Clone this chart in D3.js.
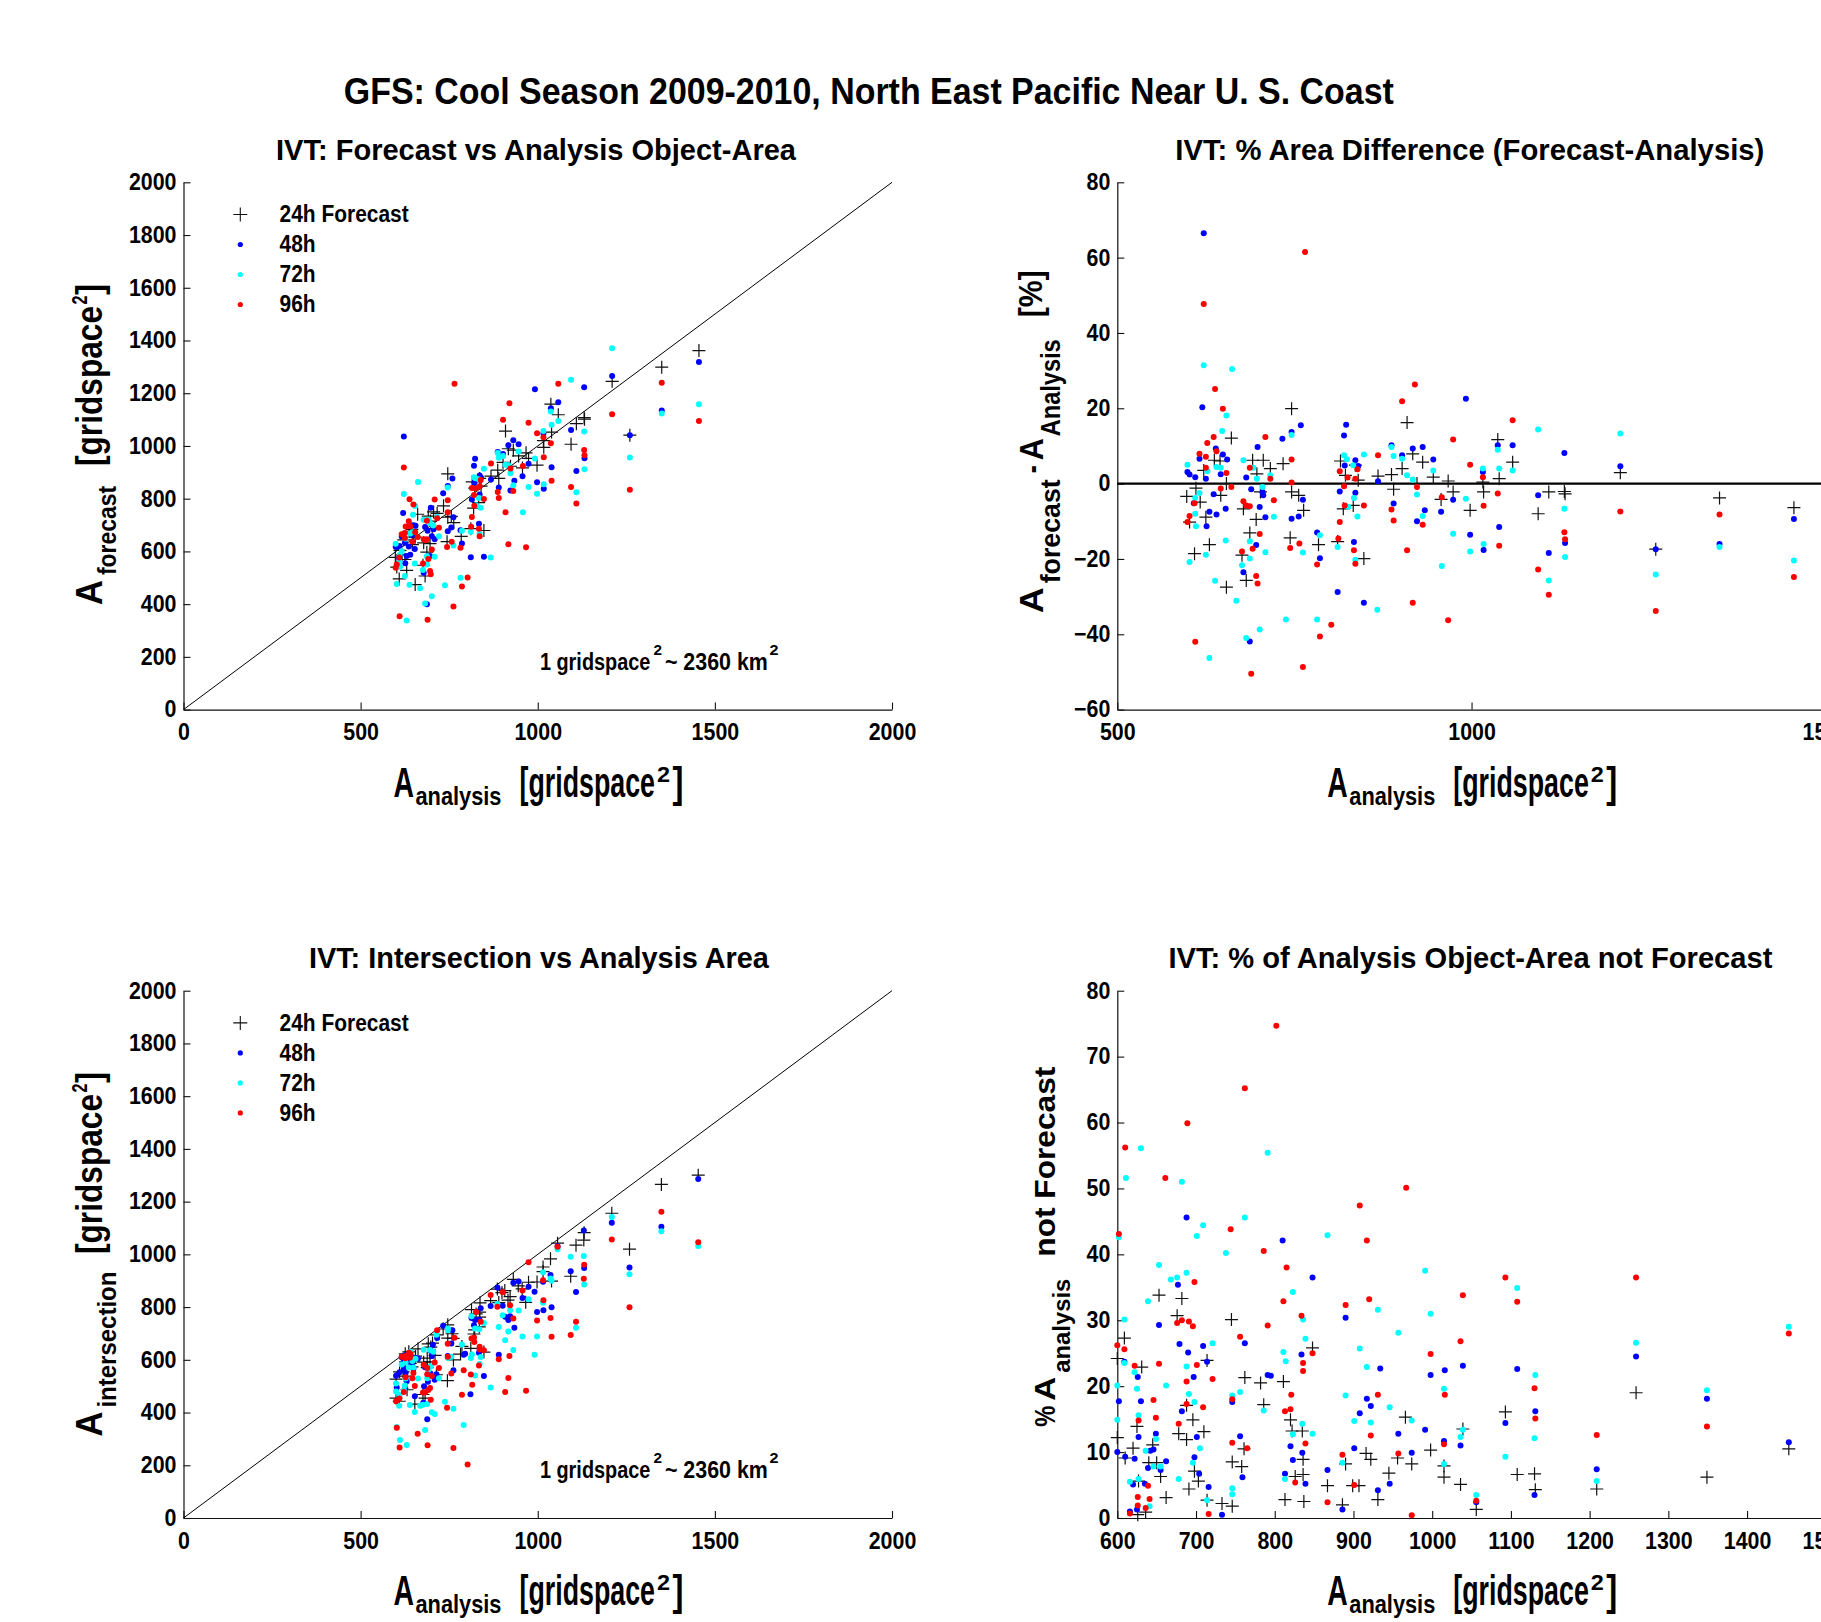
<!DOCTYPE html>
<html lang="en">
<head>
  <meta charset="UTF-8">
  <title>GFS IVT object areas</title>
  <style>
    body { margin: 0; background: #fff; }
    svg { display: block; font-family: "Liberation Sans", Arial, sans-serif; font-weight: bold; }
  </style>
</head>
<body>
  <svg id="chart"></svg>
  <script src="https://cdn.jsdelivr.net/npm/d3@7"></script>
  <script>
    // [analysis area, % difference (forecast - analysis)] per lead time
    var diff24 = [[661,12.1],[637,6.2],[645,6.0],[622,3.5],[654,0],[611,-1.2],[598,-3.4],[617,-4.9],[646,-3.1],[625,-8.9],[602,-10.2],[630,-16.2],[609,-18.6],[654,-27.5],[691,6.2],[706,6.2],[716,4.0],[697,2.6],[734,5.3],[746,19.9],[746,-2.2],[756,-3.1],[763,-7.1],[702,-2.2],[678,-6.7],[696,-9.5],[687,-13.1],[676,-19.0],[682,-25.7],[744,-14.4],[784,-16.2],[811,-15.4],[815,6.0],[822,2.2],[819,-6.7],
      [836,4.9],[840,0.9],[833,-5.8],[848,-19.9],[868,2.0],[887,2.4],[890,-1.5],[902,4.0],[909,16.2],[917,7.9],[923,0],[931,5.7],[946,1.7],[957,-4.2],[967,0.7],[974,-2.2],[998,-7.1],[1016,0.4],[1017,-2.2],[1037,11.7],[1039,1.3],[1058,5.7],[1094,-8.0],
      [1109,-2.2],[1131,-2.1],[1132,-2.7],[1210,2.9],[1260,-17.4],[1350,-3.8],[1455,-6.4]];
    var diff48 = [[622,66.5],[620,20.3],[616,6.6],[639,9.3],[649,7.7],[655,6.4],[599,3.1],[602,2.4],[610,1.7],[625,1.3],[646,2.5],[636,-2.8],[608,-5.2],[653,-6.7],[630,-7.5],[640,-8.2],[626,-11.3],[698,9.7],[682,1.6],[689,-1.5],[705,-2.2],[706,-3.1],[701,-6.2],[709,-8.9],[696,-16.3],[678,-23.5],[687,-41.9],[733,11.9],[746,13.7],[759,15.5],[762,-4.3],[756,-8.7],[746,-9.3],[782,-13.0],[786,-19.8],[811,-28.8],[823,15.6],[820,12.8],[821,4.8],[814,-2.1],
      [836,6.2],[836,-2.4],[840,4.7],[834,-15.5],[848,-31.6],[868,0.6],[887,10.2],[902,7.5],[917,9.3],[931,9.7],[890,-5.3],[934,-7.1],[923,-10.0],[946,6.4],[957,-7.5],[974,-4.3],[992,22.5],[998,-13.6],[1016,3.1],[1017,-17.6],[1037,10.2],[1039,-11.5],[1058,10.2],[1094,-3.1],
      [1109,-18.4],[1131,8.1],[1132,-15.8],[1210,4.6],[1260,-17.4],[1350,-16.0],[1455,-9.4]];
    var diff72 = [[622,31.4],[662,30.4],[654,18.1],[648,14.0],[599,5.0],[640,4.4],[646,4.2],[627,3.3],[678,6.2],[616,-2.5],[610,-3.8],[610,-8.0],[611,-11.3],[653,-15.1],[625,-18.9],[602,-20.8],[638,-25.8],[668,-31.1],[697,1.3],[692,4.2],[716,2.2],[705,-0.9],[721,-8.8],[687,-15.3],[687,-19.9],[709,-18.2],[676,-21.7],[701,-38.7],[682,-41.0],[630,-46.3],[738,-36.1],[762,-18.3],[782,-36.1],[786,-13.7],[811,-16.8],[820,7.5],[824,6.5],[826,-6.2],[746,12.9],
      [833,4.9],[834,-3.8],[839,-8.7],[836,-20.2],[848,7.7],[867,-33.5],[887,9.7],[890,7.3],[902,6.6],[909,2.2],[917,1.1],[923,-2.9],[931,-8.6],[946,3.5],[958,-21.9],[974,-13.3],[992,-4.0],[998,-18.0],[1016,4.0],[1017,-16.0],[1037,9.0],[1039,4.0],[1058,3.5],[1094,14.4],
      [1109,-25.7],[1131,-6.7],[1132,-19.5],[1210,13.3],[1260,-24.1],[1350,-16.8],[1455,-20.4]];
    var diff96 = [[765,61.5],[622,47.7],[638,25.1],[649,19.9],[636,12.4],[627,10.8],[616,7.9],[640,8.6],[625,7.1],[625,4.2],[654,2.8],[661,-0.9],[646,-1.3],[609,-5.2],[602,-8.6],[599,-10.2],[709,12.4],[687,4.2],[716,1.3],[678,-4.7],[682,-5.8],[687,-6.0],[721,-4.4],[701,-13.4],[691,-17.3],[676,-18.0],[696,-24.5],[698,-26.5],[610,-42.0],[689,-50.5],[746,6.4],[746,0.3],[757,-15.9],[744,-17.1],[762,-48.7],[786,-40.6],[782,-21.5],[802,-37.5],[814,3.3],[820,-0.7],[821,-5.8],[814,-10.2],[812,-14.6],[825,1.6],
      [839,3.8],[836,1.3],[848,-5.8],[834,-17.7],[836,-21.3],[868,7.5],[902,21.9],[920,26.3],[887,-6.9],[890,-9.8],[909,-17.7],[917,-31.6],[923,-0.9],[931,-10.9],[958,-3.6],[967,-36.3],[974,11.7],[998,5.0],[1016,1.7],[1017,-5.9],[1037,-2.6],[1039,-16.5],[1058,16.8],[1094,-22.8],
      [1109,-29.5],[1131,-12.9],[1132,-14.8],[1210,-7.4],[1260,-33.8],[1350,-8.2],[1455,-24.8]];

    // [analysis area, % of analysis object-area not forecast] per lead time
    var miss24 = [[653,33.8],[682,33.3],[676,30.7],[745,30.1],[609,27.3],[600,24.2],[631,22.9],[714,23.9],[762,21.3],[782,20.5],[811,20.7],[786,17.2],[688,17.1],[696,14.9],[625,13.9],[678,12.8],[710,13.1],[820,14.9],[822,13.2],[835,13.2],[600,12.2],[688,11.9],[620,10.6],[645,11.1],[761,10.5],[610,9.1],[640,8.4],[650,8.4],[746,8.5],[758,7.8],[698,7.1],[655,6.3],[703,5.6],[627,5.6],[836,8.9],[826,6.3],[836,6.6],[662,3.1],[691,4.4],[714,2.7],[733,2.2],[746,1.8],[813,2.8],[837,2.5],[636,0.9],[626,0.5],
      [848,25.8],[966,15.3],[1039,13.5],[916,9.8],[922,8.9],[998,10.3],[956,9.1],[974,8.2],[890,8.2],[1015,7.9],[1015,6.2],[945,6.8],[867,4.9],[899,4.9],[907,4.9],[1036,5.1],[931,2.8],[886,2.0],[1056,1.3],
      [1093,16.1],[1108,6.6],[1130,6.7],[1131,4.3],[1209,4.4],[1259,19.0],[1349,6.2],[1453,10.5]];
    var miss48 = [[688,45.6],[810,42.1],[677,35.4],[653,29.3],[679,26.4],[690,25.1],[709,26.1],[762,26.5],[609,23.7],[626,21.4],[697,21.4],[791,21.7],[795,21.6],[834,24.8],[602,17.7],[630,17.7],[682,16.2],[714,23.7],[746,17.6],[627,12.3],[649,12.8],[701,12.3],[756,12.4],[820,10.9],[835,9.9],[600,10.0],[610,9.3],[622,9.0],[646,10.4],[642,10.2],[662,8.6],[639,7.6],[655,7.3],[698,9.2],[704,6.7],[759,6.2],[823,8.8],[813,6.7],[839,5.2],[620,5.1],[635,5.2],[716,4.7],[616,1.0],[625,1.3],[733,0.5],
      [848,36.5],[890,30.4],[934,22.7],[998,21.7],[1016,22.4],[1039,23.1],[917,18.1],[922,17.0],[908,15.9],[991,13.4],[957,12.8],[901,10.6],[974,9.9],[1015,11.7],[1036,11.0],[867,7.3],[946,5.2],[931,4.2],[886,1.3],[1056,2.4],
      [1108,22.6],[1131,16.2],[1093,14.4],[1130,3.5],[1209,7.4],[1259,24.5],[1349,18.1],[1453,11.5]];
    var miss72 = [[630,56.1],[611,51.6],[682,51.0],[602,42.6],[762,45.6],[709,44.4],[701,42.8],[791,55.4],[738,40.2],[653,38.4],[668,36.2],[676,36.5],[688,37.2],[639,32.9],[823,34.3],[609,30.1],[609,23.5],[622,22.1],[688,23.0],[721,26.5],[811,25.2],[814,23.8],[836,30.1],[839,27.2],[600,20.1],[625,19.6],[662,20.1],[691,18.8],[698,17.6],[746,18.6],[756,19.1],[786,16.3],[600,14.9],[627,15.6],[649,12.0],[705,10.6],[636,10.2],[835,14.3],[823,12.7],[646,7.8],[655,7.8],[696,8.4],[616,5.5],[678,5.9],[813,5.9],[714,2.7],[746,4.5],[746,3.6],[641,1.8],[627,5.9],
      [867,42.9],[991,37.5],[931,31.6],[998,31.0],[957,28.1],[908,25.7],[917,22.9],[890,18.6],[946,16.8],[1015,19.6],[901,14.7],[922,14.5],[974,14.8],[848,12.8],[1039,13.4],[1036,12.3],[886,8.4],[1015,8.2],[1056,3.5],
      [1108,34.9],[1131,21.7],[1130,12.1],[1093,9.3],[1209,5.6],[1259,26.6],[1349,19.4],[1453,29.0]];
    var miss96 = [[802,74.7],[762,65.2],[689,59.9],[610,56.2],[661,51.6],[744,43.8],[602,43.1],[786,40.5],[815,38.0],[698,35.8],[811,32.9],[676,29.6],[682,30.0],[691,29.8],[696,29.1],[791,29.2],[834,30.7],[600,26.2],[609,25.6],[756,27.5],[622,23.1],[653,23.4],[701,23.2],[721,21.1],[836,23.5],[836,22.3],[688,20.7],[646,17.9],[688,17.3],[709,16.8],[746,18.0],[821,18.7],[813,16.2],[820,16.5],[627,14.8],[649,15.2],[678,14.3],[746,11.4],[765,10.6],[839,11.3],[639,4.9],[826,5.4],[626,3.2],[641,2.9],[626,1.9],[636,1.5],[616,0.7],[716,0.6],
      [967,50.1],[908,47.4],[917,42.1],[1039,33.8],[920,33.2],[890,32.3],[848,25.0],[1036,26.8],[998,24.9],[931,18.7],[1016,18.7],[922,12.5],[1015,11.2],[957,9.8],[886,9.6],[901,5.0],[867,2.4],[974,0.4],[1056,2.6],
      [1093,36.5],[1108,32.8],[1130,19.7],[1131,15.1],[1209,12.6],[1259,36.5],[1349,13.9],[1453,28.0]];

    var leadNames = ["24h Forecast", "48h", "72h", "96h"];
    var leadColors = ["#000000", "#0000ff", "#00ffff", "#ff0000"];
    var areaTicks = [0, 200, 400, 600, 800, 1000, 1200, 1400, 1600, 1800, 2000];
    var areaTicksX = [0, 500, 1000, 1500, 2000];
    var diffTicks = [-60, -40, -20, 0, 20, 40, 60, 80];
    var missTicks = [0, 10, 20, 30, 40, 50, 60, 70, 80];
    var missTicksX = [600, 700, 800, 900, 1000, 1100, 1200, 1300, 1400, 1500];

    var diffSets = [diff24, diff48, diff72, diff96];
    var missSets = [miss24, miss48, miss72, miss96];

    var W = 1821, H = 1622, pw = 708.5, ph = 527.3;
    var svg = d3.select("#chart").attr("width", W).attr("height", H);
    svg.append("rect").attr("width", W).attr("height", H).attr("fill", "#fff");

    function squeeze(sel, k) {
      sel.each(function () {
        var l = this.getComputedTextLength();
        d3.select(this).attr("textLength", l * k).attr("lengthAdjust", "spacingAndGlyphs");
      });
    }

    // text made of pieces (subscripts / superscripts), optionally rotated
    function label(ox, oy, rot, pieces) {
      var g = svg.append("g").attr("transform", "translate(" + ox + "," + oy + ")" + (rot ? " rotate(-90)" : ""));
      pieces.forEach(function (p) {
        g.append("text").attr("x", p[1]).attr("y", p[4]).attr("font-size", p[3])
          .attr("textLength", p[2]).attr("lengthAdjust", "spacingAndGlyphs").text(p[0]);
      });
    }

    function panel(left, top, xDom, yDom, xTicks, yTicks, sets, title, titleX, titleLen) {
      var x = d3.scaleLinear().domain(xDom).range([left, left + pw]);
      var y = d3.scaleLinear().domain(yDom).range([top + ph, top]);
      var g = svg.append("g");

      svg.append("text").attr("x", titleX).attr("y", top - 22.3).attr("font-size", 30)
        .attr("textLength", titleLen).attr("lengthAdjust", "spacingAndGlyphs").text(title);

      var ax = g.append("g").attr("transform", "translate(0," + (top + ph) + ")")
        .call(d3.axisBottom(x).tickValues(xTicks).tickSize(-7).tickSizeOuter(0).tickPadding(14.5).tickFormat(d3.format("d")));
      var ay = g.append("g").attr("transform", "translate(" + left + ",0)")
        .call(d3.axisLeft(y).tickValues(yTicks).tickSize(-7).tickSizeOuter(0).tickPadding(7).tickFormat(d3.format("d")));
      [ax, ay].forEach(function (a) {
        a.attr("font-size", 23).attr("font-family", null).attr("color", "#111");
        a.select(".domain").attr("stroke-width", 1.2);
        a.selectAll("line").attr("stroke-width", 1.1);
        a.selectAll("text").attr("fill", "#000");
        squeeze(a.selectAll("text"), 0.93);
      });

      var ref = g.append("g");
      var marks = g.append("g");
      sets.forEach(function (pts, i) {
        var s = marks.append("g");
        if (i === 0) {
          s.selectAll("path").data(pts).enter().append("path")
            .attr("transform", function (d) { return "translate(" + x(d[0]) + "," + y(d[1]) + ")"; })
            .attr("d", "M-6.5,0H6.5M0,-6.5V6.5").attr("stroke", "#111").attr("stroke-width", 1.2).attr("fill", "none");
        } else {
          s.selectAll("circle").data(pts).enter().append("circle")
            .attr("cx", function (d) { return x(d[0]); }).attr("cy", function (d) { return y(d[1]); })
            .attr("r", 3).attr("fill", leadColors[i]);
        }
      });
      return { x: x, y: y, ref: ref };
    }

    function legend(top) {
      leadNames.forEach(function (n, i) {
        var cy = top + 30 * i;
        if (i === 0) {
          svg.append("path").attr("transform", "translate(240.3," + cy + ")")
            .attr("d", "M-7,0H7M0,-7V7").attr("stroke", "#111").attr("stroke-width", 1.1);
        } else {
          svg.append("circle").attr("cx", 240.3).attr("cy", cy).attr("r", 2.6).attr("fill", leadColors[i]);
        }
        var t = svg.append("text").attr("x", 279.6).attr("y", cy + 7.8).attr("font-size", 23).text(n);
        squeeze(t, 0.91);
      });
    }

    function gridNote(oy) {
      label(539.9, oy, false, [["1 gridspace", 0, 110.5, 23, 0], ["2", 113.5, 8.5, 15, -15],
        ["~ 2360 km", 125, 103, 23, 0], ["2", 229.5, 9, 15, -15]]);
    }

    function xLabel(ox, oy) {
      label(ox, oy, false, [["A", 0, 20.5, 42, 0], ["analysis", 22, 86, 26, 8],
        ["[gridspace", 126, 135.5, 42, 0], ["2", 263.5, 13, 22, -15], ["]", 279, 11, 42, 0]]);
    }

    function diagonal(p) {
      p.ref.append("line").attr("x1", p.x(0)).attr("y1", p.y(0)).attr("x2", p.x(2000)).attr("y2", p.y(2000))
        .attr("stroke", "#000").attr("stroke-width", 1);
    }

    // main title
    svg.append("text").attr("x", 343.8).attr("y", 103.5).attr("font-size", 36)
      .attr("textLength", 1050).attr("lengthAdjust", "spacingAndGlyphs")
      .text("GFS: Cool Season 2009-2010, North East Pacific Near U. S. Coast");

    // forecast vs analysis
    var p1 = panel(183.5, 182.3, [0, 2000], [0, 2000], areaTicksX, areaTicks,
      diffSets.map(function (s) { return s.map(function (d) { return [d[0], d[0] * (1 + d[1] / 100)]; }); }),
      "IVT: Forecast vs Analysis Object-Area", 276, 520);
    diagonal(p1);
    legend(214.5);
    gridNote(670);
    xLabel(393.5, 797);
    label(102.2, 605, true, [["A", 0, 25, 36, 0], ["forecast", 30, 89, 26, 14],
      ["[gridspace", 139, 160, 36, 0], ["2", 300.5, 9, 22, -15], ["]", 310, 11, 36, 0]]);

    // % area difference
    var p2 = panel(1117.3, 182.3, [500, 1500], [-60, 80], [500, 1000, 1500], diffTicks, diffSets,
      "IVT: % Area Difference (Forecast-Analysis)", 1175.3, 589);
    p2.ref.append("line").attr("x1", p2.x(500)).attr("x2", p2.x(1500)).attr("y1", p2.y(0)).attr("y2", p2.y(0))
      .attr("stroke", "#000").attr("stroke-width", 2.2);
    xLabel(1327.3, 797);
    label(1043.3, 613.3, true, [["A", 0, 26, 33, 0], ["forecast", 30, 104, 27, 16.7], ["-", 140, 8, 33, 0],
      ["A", 153, 22, 33, 0], ["Analysis", 177, 97, 27, 16.7], ["[%]", 296, 47, 33, -1.6]]);

    // intersection vs analysis
    var p3 = panel(183.5, 990.7, [0, 2000], [0, 2000], areaTicksX, areaTicks,
      missSets.map(function (s) { return s.map(function (d) { return [d[0], d[0] * (1 - d[1] / 100)]; }); }),
      "IVT: Intersection vs Analysis Area", 308.9, 460);
    diagonal(p3);
    legend(1022.9);
    gridNote(1478.4);
    xLabel(393.5, 1605.4);
    label(102.2, 1436.6, true, [["A", 0, 25, 36, 0], ["intersection", 29, 136, 26, 14],
      ["[gridspace", 182.6, 160, 36, 0], ["2", 344, 9, 22, -15], ["]", 353.6, 11, 36, 0]]);

    // % not forecast
    var p4 = panel(1117.3, 990.7, [600, 1500], [0, 80], missTicksX, missTicks, missSets,
      "IVT: % of Analysis Object-Area not Forecast", 1168.4, 604);
    xLabel(1327.3, 1605.4);
    label(1055, 1426.7, true, [["%", 0, 21, 30, 0], ["A", 26, 24, 30, 0], ["analysis", 54, 94, 24, 15],
      ["not Forecast", 170, 190, 30, 0]]);
  </script>
</body>
</html>
